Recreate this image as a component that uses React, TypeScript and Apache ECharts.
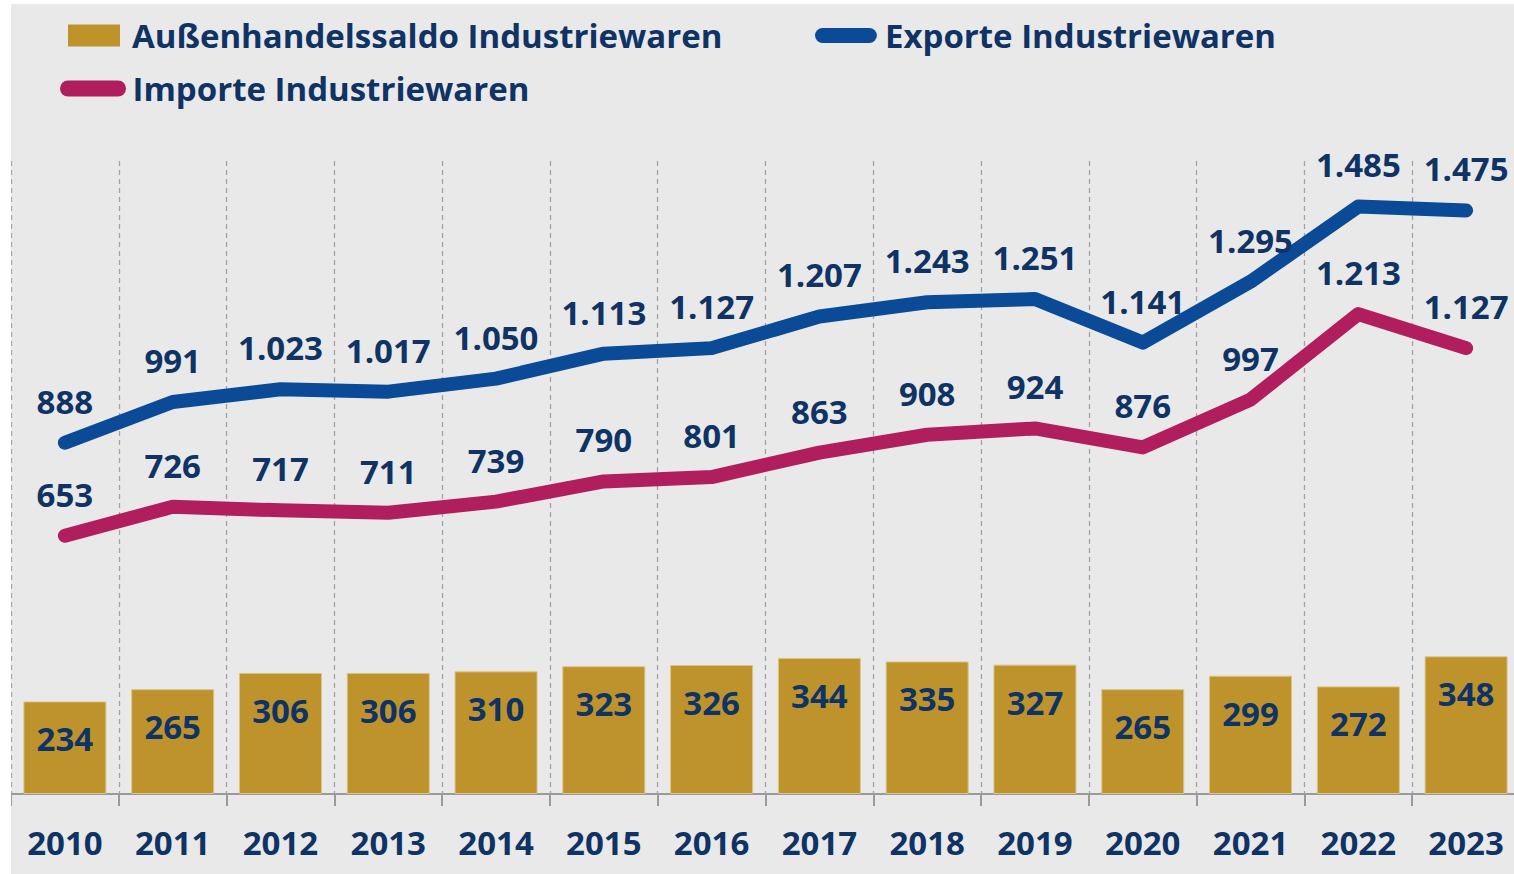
import React, { useEffect, useRef } from "react";
import * as echarts from "echarts";

const years = ["2010", "2011", "2012", "2013", "2014", "2015", "2016", "2017", "2018", "2019", "2020", "2021", "2022", "2023"];
const saldo = [234, 265, 306, 306, 310, 323, 326, 344, 335, 327, 265, 299, 272, 348];
const exporte = [888, 991, 1023, 1017, 1050, 1113, 1127, 1207, 1243, 1251, 1141, 1295, 1485, 1475];
const importe = [653, 726, 717, 711, 739, 790, 801, 863, 908, 924, 876, 997, 1213, 1127];

const NAME_SALDO = "Außenhandelssaldo Industriewaren";
const NAME_EXP = "Exporte Industriewaren";
const NAME_IMP = "Importe Industriewaren";

const TEXT = "#0e3364";
const GOLD = "#be932b";
const BLUE = "#0a4a96";
const RED = "#b01e5e";
const FONT = "Open Sans";
const FS = 33;

const fmt = (v: number) => {
  const s = String(Math.round(v));
  return s.replace(/\B(?=(\d{3})+(?!\d))/g, ".");
};

const pill = "path://M8,0 L58,0 A8,8 0 0 1 58,16 L8,16 A8,8 0 0 1 8,0 Z";

export default function App() {
  const ref = useRef<HTMLDivElement>(null);
  useEffect(() => {
    if (!ref.current) return;
    const chart = echarts.init(ref.current, undefined, { renderer: "svg" });
    const legendText = { fontFamily: FONT, fontWeight: "bold" as const, fontSize: FS, color: TEXT };
    const lbl = { fontFamily: FONT, fontWeight: "bold" as const, fontSize: FS, color: TEXT };
    chart.setOption({
      animation: false,
      backgroundColor: "#e9e9e9",
      textStyle: { fontFamily: FONT },
      legend: [
        {
          data: [{ name: NAME_SALDO, icon: "rect", itemStyle: { color: GOLD, borderWidth: 0 } }],
          left: 57, top: 15, padding: 0, itemWidth: 52, itemHeight: 22,
          textStyle: { ...legendText, padding: [0, 0, 0, 7] },
          selectedMode: false,
        },
        {
          data: [{ name: NAME_EXP, icon: pill, itemStyle: { color: BLUE, borderWidth: 0 } }],
          left: 804, top: 15, padding: 0, itemWidth: 66, itemHeight: 15,
          textStyle: { ...legendText, padding: [0, 0, 0, 1] },
          selectedMode: false,
        },
        {
          data: [{ name: NAME_IMP, icon: pill, itemStyle: { color: RED, borderWidth: 0 } }],
          left: 49, top: 68, padding: 0, itemWidth: 67, itemHeight: 16,
          textStyle: { ...legendText, padding: [0, 0, 0, 1] },
          selectedMode: false,
        },
      ],
      grid: { left: 0, right: 0, top: 157, bottom: 80, containLabel: false },
      xAxis: {
        type: "category",
        data: years,
        boundaryGap: true,
        axisLine: { show: true, lineStyle: { color: "#9a9a9a", width: 2 } },
        axisTick: { show: true, length: 12, lineStyle: { color: "#9a9a9a", width: 2 } },
        axisLabel: { ...lbl, margin: 32 },
        splitLine: { show: true, lineStyle: { color: "#a3a3a3", width: 1.3, type: [5, 4] } },
      },
      yAxis: {
        type: "value",
        min: 0,
        max: 1600,
        show: false,
        splitLine: { show: false },
      },
      series: [
        {
          name: NAME_SALDO,
          type: "bar",
          data: saldo,
          barWidth: "77%",
          itemStyle: { color: GOLD, borderColor: "#d9c48a", borderWidth: 1 },
          label: {
            show: true, position: "insideTop", distance: 21, ...lbl,
            formatter: (p: any) => fmt(p.value),
          },
        },
        {
          name: NAME_EXP,
          type: "line",
          data: exporte,
          showSymbol: true,
          symbol: "circle",
          symbolSize: 0,
          lineStyle: { color: BLUE, width: 14, cap: "round", join: "round" },
          itemStyle: { color: BLUE },
          label: {
            show: true, position: "top", distance: 25, ...lbl,
            formatter: (p: any) => fmt(p.value),
          },
        },
        {
          name: NAME_IMP,
          type: "line",
          data: importe,
          showSymbol: true,
          symbol: "circle",
          symbolSize: 0,
          lineStyle: { color: RED, width: 14, cap: "round", join: "round" },
          itemStyle: { color: RED },
          label: {
            show: true, position: "top", distance: 25, ...lbl,
            formatter: (p: any) => fmt(p.value),
          },
        },
      ],
    });
    return () => chart.dispose();
  }, []);
  return (
    <div style={{ position: "fixed", left: 11, top: 4, width: 1503, height: 870, background: "#e9e9e9", overflow: "hidden" }}>
      <div ref={ref} style={{ width: 1509, height: 870 }} />
    </div>
  );
}
